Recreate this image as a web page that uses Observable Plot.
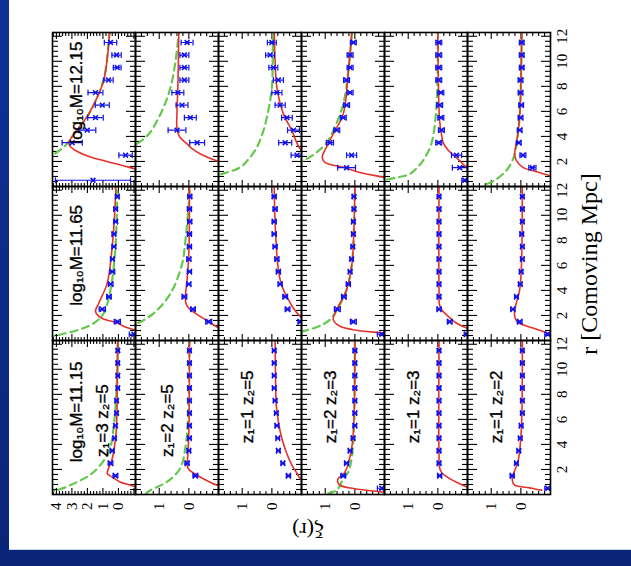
<!DOCTYPE html>
<html><head><meta charset="utf-8">
<script src="https://cdn.jsdelivr.net/npm/d3@7"></script>
<script src="https://cdn.jsdelivr.net/npm/@observablehq/plot@0.6"></script>
<style>
html,body{margin:0;padding:0;width:631px;height:566px;overflow:hidden;background:linear-gradient(#0d3197,#0a2577);}
#page{position:absolute;left:9px;top:0;width:622px;height:549px;background:#fff;border-bottom:1px solid #c9d3ee;}
#fig{position:absolute;left:0;top:566px;width:566px;height:631px;transform-origin:0 0;transform:rotate(-90deg);}
#fig svg{display:block;overflow:visible;}
.lab{position:absolute;font-family:"Liberation Serif","Times New Roman",serif;color:#000;white-space:nowrap;}
</style></head><body>
<div id="page"></div>
<div id="fig"></div>
<script>
// ---------- categories / labels ----------
var massKeys = ["11.15", "11.65", "12.15"];
var massLabels = ["log\u2081\u2080M=11.15", "log\u2081\u2080M=11.65", "log\u2081\u2080M=12.15"];
var zLabels = ["z\u2081=3 z\u2082=5", "z\u2081=2 z\u2082=5", "z\u2081=1 z\u2082=5", "z\u2081=2 z\u2082=3", "z\u2081=1 z\u2082=3", "z\u2081=1 z\u2082=2"];
var rBins = [0.5, 1.5, 2.5, 3.5, 4.5, 5.5, 6.5, 7.5, 8.5, 9.5, 10.5, 11.5];
var rMajor = [0, 2, 4, 6, 8, 10, 12];
var rTickLabels = [2, 4, 6, 8, 10, 12];
var xiTickLabelsTop = [0, 1, 2, 3, 4];
var xiTickLabels = [0, 1];

// ---------- z1=3 z2=5 ----------
var xi_z35_m1115 = [null, 0.19, 0.51, 0.40, 0.25, 0.19, 0.12, 0.12, 0.04, 0.04, 0.04, 0.04];
var err_z35_m1115 = [null, 0.15, 0.15, 0.12, 0.10, 0.10, 0.10, 0.10, 0.10, 0.10, 0.10, 0.10];
var red_z35_m1115 = [[0.55,-1.3],[0.74,-0.78],[1.0,-0.1],[1.4,0.4],[1.67,0.72],[2.0,0.66],[2.86,0.4],[5.0,0.15],[8.0,0.08],[12.3,0.04]];
var grn_z35_m1115 = [[0.2,4.6],[0.34,3.95],[1.0,2.66],[1.8,1.59],[3.4,0.62],[5.5,0.3],[8.5,0.12],[12.3,0.04]];

var xi_z35_m1165 = [-1.0, 0.07, 1.04, 0.61, 0.50, 0.39, 0.39, 0.29, 0.29, 0.18, 0.18, 0.07];
var err_z35_m1165 = [0.3, 0.2, 0.2, 0.15, 0.15, 0.15, 0.12, 0.12, 0.12, 0.12, 0.12, 0.12];
var red_z35_m1165 = [[0.7,-1.5],[0.87,-1.0],[1.1,-0.4],[1.41,0.08],[1.65,0.8],[1.93,1.26],[2.33,1.48],[3.0,1.26],[4.6,0.72],[7.5,0.4],[10,0.25],[12.3,0.16]];
var grn_z35_m1165 = [[0.3,4.6],[0.48,3.73],[1.0,2.23],[1.5,1.45],[2.2,0.94],[4.05,0.51],[7.5,0.19],[11.7,0.08],[12.3,0.07]];

var xi_z35_m1215 = [1.64, null, -0.46, 2.98, 2.01, 1.48, 1.04, 1.48, 0.64, 0.08, 0.12, 0.51];
var err_z35_m1215 = [2.42, null, 0.43, 0.65, 0.55, 0.5, 0.45, 0.48, 0.3, 0.25, 0.3, 0.4];
var red_z35_m1215 = [[1.2,-1.8],[1.4,-1.1],[1.7,-0.2],[2.0,0.75],[2.4,1.9],[2.8,2.65],[3.2,3.1],[3.5,3.2],[4.2,2.86],[5.2,2.22],[6.6,1.57],[8.4,0.96],[10,0.74],[12.3,0.57]];
var grn_z35_m1215 = [[2.3,4.8],[2.6,4.14],[3.3,3.4],[4.2,2.86],[6.0,1.8],[8.7,0.93],[11.9,0.61],[12.3,0.57]];

// ---------- z1=2 z2=5 ----------
var xi_z25_m1115 = [null, -0.22, 0.06, 0.0, -0.02, -0.02, -0.02, -0.02, -0.02, -0.02, -0.02, -0.02];
var err_z25_m1115 = [null, 0.08, 0.07, 0.06, 0.06, 0.06, 0.06, 0.06, 0.06, 0.06, 0.06, 0.06];
var red_z25_m1115 = [[0.74,-0.95],[1.0,-0.7],[1.54,-0.28],[2.0,0.0],[2.33,0.06],[3.0,0.04],[5,0.0],[12.3,-0.02]];
var grn_z25_m1115 = [[0.05,1.45],[0.34,1.3],[1.0,0.74],[2.1,0.29],[3.7,0.12],[6,0.03],[12.3,-0.02]];

var xi_z25_m1165 = [null, -0.67, -0.14, 0.15, 0.0, -0.02, 0.0, -0.02, -0.02, -0.03, -0.02, -0.03];
var err_z25_m1165 = [null, 0.1, 0.08, 0.08, 0.07, 0.07, 0.07, 0.07, 0.07, 0.07, 0.07, 0.07];
var red_z25_m1165 = [[1.0,-1.05],[1.08,-0.95],[1.4,-0.75],[1.75,-0.5],[2.2,-0.2],[2.6,0.01],[3.0,0.1],[3.4,0.12],[4.85,0.06],[7,0.0],[12.3,-0.02]];
var grn_z25_m1165 = [[1.2,2.1],[1.37,1.75],[2.17,1.19],[3.76,0.62],[6.1,0.23],[7.9,0.12],[11.7,-0.02],[12.3,-0.02]];

var xi_z25_m1215 = [null, null, null, -0.28, 0.40, -0.05, 0.23, 0.37, 0.15, 0.15, 0.15, 0.06];
var err_z25_m1215 = [null, null, null, 0.25, 0.3, 0.2, 0.2, 0.2, 0.15, 0.15, 0.15, 0.2];
var red_z25_m1215 = [[1.8,-1.3],[2.0,-1.0],[2.6,-0.39],[3.0,-0.12],[3.4,0.06],[4.0,0.32],[4.6,0.4],[6.0,0.4],[8.0,0.37],[12.3,0.34]];
var grn_z25_m1215 = [[3.0,2.1],[3.4,1.75],[4.2,1.35],[5.25,1.07],[6.5,0.82],[7.9,0.62],[10,0.45],[12.3,0.34]];

// ---------- z1=1 z2=5 ----------
var xi_z15_m1115 = [null, -0.56, -0.37, -0.22, -0.2, -0.17, -0.15, -0.11, -0.08, -0.08, -0.08, -0.08];
var err_z15_m1115 = [null, 0.07, 0.06, 0.06, 0.06, 0.06, 0.06, 0.06, 0.06, 0.06, 0.06, 0.06];
var red_z15_m1115 = [[1.1,-1.1],[1.27,-0.96],[1.8,-0.82],[2.33,-0.68],[3.3,-0.5],[4.45,-0.34],[5.8,-0.22],[7.1,-0.15],[10,-0.12],[12.3,-0.11]];
var grn_z15_m1115 = [];

var xi_z15_m1165 = [null, -0.96, -0.53, -0.45, -0.28, -0.22, -0.17, -0.11, -0.08, -0.08, -0.11, -0.08];
var err_z15_m1165 = [null, 0.08, 0.08, 0.08, 0.07, 0.07, 0.07, 0.07, 0.07, 0.07, 0.07, 0.07];
var red_z15_m1165 = [[1.7,-1.1],[1.93,-0.96],[2.5,-0.75],[3.26,-0.56],[4.0,-0.4],[4.85,-0.28],[6,-0.2],[7.5,-0.15],[10,-0.1],[12.3,-0.08]];
var grn_z15_m1165 = [];

var xi_z15_m1215 = [null, null, -0.85, -0.45, -0.73, -0.51, -0.28, -0.17, -0.22, -0.05, 0.06, 0.0];
var err_z15_m1215 = [null, null, 0.2, 0.22, 0.2, 0.18, 0.17, 0.17, 0.17, 0.15, 0.15, 0.15];
var red_z15_m1215 = [[2.7,-1.1],[3.0,-0.96],[3.6,-0.82],[4.45,-0.68],[5.8,-0.39],[7.9,-0.17],[10,-0.11],[12.3,-0.08]];
var grn_z15_m1215 = [[0.7,2.1],[0.95,1.75],[1.53,1.07],[2.2,0.78],[3.1,0.51],[4.2,0.32],[5.5,0.17],[7.9,0.0],[12.3,-0.03]];

// ---------- z1=2 z2=3 ----------
var xi_z23_m1115 = [-0.91, 0.39, 0.28, 0.16, 0.06, 0.0, 0.0, 0.0, 0.0, 0.0, 0.0, 0.0];
var err_z23_m1115 = [0.15, 0.08, 0.07, 0.06, 0.06, 0.06, 0.06, 0.06, 0.06, 0.06, 0.06, 0.06];
var red_z23_m1115 = [[0.15,-1.1],[0.34,-0.39],[0.48,0.05],[0.74,0.5],[1.0,0.58],[1.27,0.56],[1.8,0.33],[3.66,0.11],[6,0.03],[12.3,0.0]];
var grn_z23_m1115 = [[0.1,0.9],[0.34,0.61],[1.27,0.39],[1.8,0.22],[2.86,0.11],[4,0.06],[6,0.02],[12.3,0.0]];

var xi_z23_m1165 = [-0.91, 0.05, 0.59, 0.37, 0.22, 0.16, 0.11, 0.07, 0.05, 0.05, 0.03, 0.03];
var err_z23_m1165 = [0.15, 0.1, 0.1, 0.08, 0.07, 0.06, 0.06, 0.06, 0.06, 0.06, 0.06, 0.06];
var red_z23_m1165 = [[0.5,-1.3],[0.61,-0.91],[0.82,-0.06],[1.14,0.5],[1.67,0.73],[2.46,0.61],[4.05,0.28],[6.1,0.1],[9,0.03],[12.3,0.0]];
var grn_z23_m1165 = [[0.5,2.2],[0.74,1.74],[1.2,1.15],[1.67,0.84],[2.46,0.6],[4.05,0.28],[6.1,0.1],[9,0.03],[12.3,0.0]];

var xi_z23_m1215 = [null, 0.28, 0.11, 0.84, 0.61, 0.39, 0.28, 0.16, 0.28, 0.16, 0.16, 0.05];
var err_z23_m1215 = [null, 0.3, 0.17, 0.12, 0.1, 0.1, 0.1, 0.1, 0.1, 0.1, 0.1, 0.1];
var red_z23_m1215 = [[0.6,-1.2],[0.74,-0.96],[1.1,-0.2],[1.53,0.39],[1.93,1.01],[2.3,1.1],[2.6,1.07],[3.4,0.9],[4.2,0.73],[5.8,0.39],[9.2,0.22],[12.3,0.1]];
var grn_z23_m1215 = [[1.9,2.0],[2.07,1.74],[2.73,1.29],[3.5,0.95],[4.45,0.73],[6.6,0.39],[9.2,0.22],[12.3,0.1]];

// ---------- z1=1 z2=3 ----------
var xi_z13_m1115 = [null, -0.06, -0.04, -0.04, -0.04, -0.04, -0.04, -0.04, -0.04, -0.04, -0.04, -0.04];
var err_z13_m1115 = [null, 0.07, 0.06, 0.06, 0.06, 0.06, 0.06, 0.06, 0.06, 0.06, 0.06, 0.06];
var red_z13_m1115 = [[0.5,-1.1],[0.61,-0.97],[0.9,-0.7],[1.27,-0.4],[1.7,-0.15],[2.1,-0.06],[3,-0.04],[12.3,-0.04]];
var grn_z13_m1115 = [];

var xi_z13_m1165 = [-0.97, -0.4, -0.04, -0.04, -0.04, -0.04, -0.04, -0.04, -0.04, -0.04, -0.04, -0.04];
var err_z13_m1165 = [0.08, 0.08, 0.07, 0.06, 0.06, 0.06, 0.06, 0.06, 0.06, 0.06, 0.06, 0.06];
var red_z13_m1165 = [[0.9,-1.1],[1.0,-0.97],[1.4,-0.62],[1.93,-0.35],[2.4,-0.15],[2.8,-0.06],[4,-0.04],[12.3,-0.04]];
var grn_z13_m1165 = [];

var xi_z13_m1215 = [-0.91, -0.74, -0.63, -0.03, -0.12, -0.1, -0.06, -0.1, -0.03, -0.03, -0.03, -0.03];
var err_z13_m1215 = [0.1, 0.25, 0.17, 0.1, 0.1, 0.1, 0.1, 0.1, 0.1, 0.1, 0.1, 0.1];
var red_z13_m1215 = [[1.4,-1.1],[1.53,-0.97],[1.9,-0.8],[2.3,-0.63],[2.9,-0.35],[3.5,-0.18],[4.2,-0.12],[5.25,-0.06],[8,-0.02],[12.3,0.0]];
var grn_z13_m1215 = [[0.4,2.1],[0.5,1.85],[0.75,1.3],[1.0,0.95],[1.5,0.7],[2.07,0.5],[3.4,0.22],[6.3,0.05],[12.3,0.0]];

// ---------- z1=1 z2=2 ----------
var xi_z12_m1115 = [-0.91, 0.29, 0.15, 0.07, 0.02, -0.01, -0.05, -0.05, -0.05, -0.05, -0.05, -0.05];
var err_z12_m1115 = [0.1, 0.07, 0.06, 0.06, 0.06, 0.06, 0.06, 0.06, 0.06, 0.06, 0.06, 0.06];
var red_z12_m1115 = [[0.35,-0.7],[0.42,-0.52],[0.53,-0.29],[0.74,0.21],[1.14,0.29],[1.53,0.27],[2.6,0.1],[4,0.02],[6,-0.03],[12.3,-0.05]];
var grn_z12_m1115 = [];

var xi_z12_m1165 = [-0.91, 0.04, 0.27, 0.15, 0.02, -0.01, -0.05, -0.05, -0.03, -0.05, -0.05, -0.05];
var err_z12_m1165 = [0.1, 0.08, 0.07, 0.06, 0.06, 0.06, 0.06, 0.06, 0.06, 0.06, 0.06, 0.06];
var red_z12_m1165 = [[0.45,-1.2],[0.56,-0.97],[1.0,-0.41],[1.45,0.1],[1.93,0.21],[2.73,0.18],[4.05,0.04],[6,-0.02],[12.3,-0.05]];
var grn_z12_m1165 = [];

var xi_z12_m1215 = [null, -0.39, -0.07, 0.07, 0.04, 0.01, -0.01, 0.01, 0.01, -0.03, -0.03, -0.03];
var err_z12_m1215 = [null, 0.12, 0.1, 0.08, 0.08, 0.08, 0.08, 0.08, 0.08, 0.08, 0.08, 0.08];
var red_z12_m1215 = [[0.75,-1.1],[0.87,-0.97],[1.2,-0.5],[1.53,-0.07],[2.07,0.15],[2.6,0.21],[3.2,0.17],[4.2,0.1],[6,0.03],[12.3,-0.03]];
var grn_z12_m1215 = [[0.2,1.15],[0.48,0.89],[1.27,0.49],[2.0,0.3],[2.6,0.21],[4.2,0.1],[6,0.03],[12.3,-0.03]];

// ---------- assemble ----------
var BLUE = "#1212ee", RED = "#e5322a", GREEN = "#64c84c";
var SANS = "Liberation Sans, Arial, Helvetica, sans-serif";
var SERIF = "Liberation Serif, Times New Roman, serif";

var rowKeys = ["z35", "z25", "z15", "z23", "z13", "z12"];
var rowDomains = [[-1.1, 4.25], [-1, 1.8], [-1, 1.8], [-1, 1.8], [-1, 1.8], [-1, 1.8]];
var zLabelPos = [[5.9, 1.02], [5.9, 0.72], [7.0, 0.81], [7.0, 0.81], [7.0, 0.81], [7.0, 0.81]];
var logLabelR = {"11.15": 6.6, "11.65": 6.8, "12.15": 7.5};

function panelArrays(key, j) {
  var mk = "m" + massKeys[j].replace(".", "");
  return {xi: window["xi_" + key + "_" + mk], err: window["err_" + key + "_" + mk],
          red: window["red_" + key + "_" + mk], grn: window["grn_" + key + "_" + mk]};
}

var capShape = {draw: function(ctx, l) { ctx.moveTo(-l / 2, 0); ctx.lineTo(l / 2, 0); }};
var rMinor = d3.range(1, 31).map(function(k) { return +(k * 0.4).toFixed(2); })
  .filter(function(v) { return v <= 12.3 && Math.abs(v / 2 - Math.round(v / 2)) > 1e-6; });
var intFmt = d3.format("d");

var fig = document.getElementById("fig");

rowKeys.forEach(function(key, i) {
  var first = i === 0, last = i === rowKeys.length - 1;
  var mt = first ? 52 : 0, mb = last ? 81 : 0;
  var dom = rowDomains[i];
  var pts = [], red = [], grn = [];
  massKeys.forEach(function(mass, j) {
    var p = panelArrays(key, j);
    rBins.forEach(function(r, k) {
      if (p.xi[k] != null) pts.push({mass: mass, r: r, xi: p.xi[k], lo: p.xi[k] - p.err[k], hi: p.xi[k] + p.err[k]});
    });
    p.red.forEach(function(d) { red.push({mass: mass, r: d[0], xi: d[1]}); });
    p.grn.forEach(function(d) { grn.push({mass: mass, r: d[0], xi: d[1]}); });
  });
  var major = d3.range(Math.ceil(dom[0]), Math.floor(dom[1]) + 1);
  var minor = d3.range(Math.ceil(dom[0] * 5), Math.floor(dom[1] * 5) + 1).map(function(k) { return k / 5; })
    .filter(function(v) { return Math.abs(v - Math.round(v)) > 1e-6; });
  function tk(o) { return Object.assign({fill: "none", label: null, facetAnchor: null, strokeWidth: 1.1}, o); }

  var marks = [
    Plot.axisX(tk({anchor: "bottom", ticks: rMajor, tickSize: 9, dy: -9})),
    Plot.axisX(tk({anchor: "top", ticks: rMajor, tickSize: 9, dy: 9})),
    Plot.axisX(tk({anchor: "bottom", ticks: rMinor, tickSize: 5, dy: -5})),
    Plot.axisX(tk({anchor: "top", ticks: rMinor, tickSize: 5, dy: 5})),
    Plot.axisY(tk({anchor: "left", ticks: major, tickSize: 7, dx: 7})),
    Plot.axisY(tk({anchor: "right", ticks: major, tickSize: 7, dx: -7})),
    Plot.axisY(tk({anchor: "left", ticks: minor, tickSize: 4, dx: 4})),
    Plot.axisY(tk({anchor: "right", ticks: minor, tickSize: 4, dx: -4})),
    Plot.axisY({anchor: "left", ticks: first ? xiTickLabelsTop : xiTickLabels, tickFormat: intFmt, tickSize: 0, tickPadding: 8, label: null, fontSize: 15}),
    Plot.line(grn, {fx: "mass", x: "r", y: "xi", stroke: GREEN, strokeWidth: 2.2, strokeDasharray: "7,5", curve: "catmull-rom", clip: true}),
    Plot.line(red, {fx: "mass", x: "r", y: "xi", stroke: RED, strokeWidth: 1.6, curve: "catmull-rom", clip: true}),
    Plot.ruleX(pts, {fx: "mass", x: "r", y1: "lo", y2: "hi", stroke: BLUE, strokeWidth: 1.2, clip: true}),
    Plot.vector(pts, {fx: "mass", x: "r", y: "lo", length: 5, anchor: "start", shape: capShape, stroke: BLUE, strokeWidth: 1.2, clip: true}),
    Plot.vector(pts, {fx: "mass", x: "r", y: "hi", length: 5, anchor: "start", shape: capShape, stroke: BLUE, strokeWidth: 1.2, clip: true}),
    Plot.dot(pts, {fx: "mass", x: "r", y: "xi", symbol: "times", r: 2.3, stroke: BLUE, strokeWidth: 1.6, clip: true}),
    Plot.text([{mass: massKeys[0], text: zLabels[i]}], {fx: "mass", x: function() { return zLabelPos[i][0]; }, y: function() { return zLabelPos[i][1]; }, text: "text", fontSize: 17, fontFamily: SANS, fill: "black", stroke: "black", strokeWidth: 0.35}),
    Plot.frame({stroke: "black", strokeWidth: 1.6})
  ];
  if (first) {
    marks.push(Plot.text(massKeys.map(function(m, j) { return {mass: m, text: massLabels[j]}; }),
      {fx: "mass", x: function(d) { return logLabelR[d.mass]; }, y: function() { return 2.73; }, text: "text", fontSize: 17, fontFamily: SANS, fill: "black", stroke: "black", strokeWidth: 0.35}));
  }
  if (last) {
    marks.push(Plot.axisX({anchor: "bottom", ticks: rTickLabels, tickFormat: intFmt, tickSize: 0, tickPadding: 6, label: null, fontSize: 15}));
  }
  var svg = Plot.plot({
    width: 566, height: 83 + mt + mb,
    marginLeft: 70, marginRight: 32, marginTop: mt, marginBottom: mb,
    style: {background: "transparent", overflow: "visible", fontFamily: SERIF, fontSize: "15px", color: "black"},
    fx: {domain: massKeys, padding: 0, axis: null},
    x: {domain: [0, 12.3], axis: null},
    y: {domain: dom, axis: null},
    marks: marks
  });
  fig.appendChild(svg);
});

var xl = document.createElement("div");
xl.className = "lab";
xl.textContent = "r [Comoving Mpc]";
xl.style.cssText = "left:70px;width:464px;top:576px;text-align:center;font-size:24px;";
fig.appendChild(xl);

var yl = document.createElement("div");
yl.className = "lab";
yl.textContent = "\u03be(r)";
yl.style.cssText = "left:36px;top:308px;font-size:22px;transform:translate(-50%,-50%) rotate(-90deg);";
fig.appendChild(yl);
</script>
</body></html>
